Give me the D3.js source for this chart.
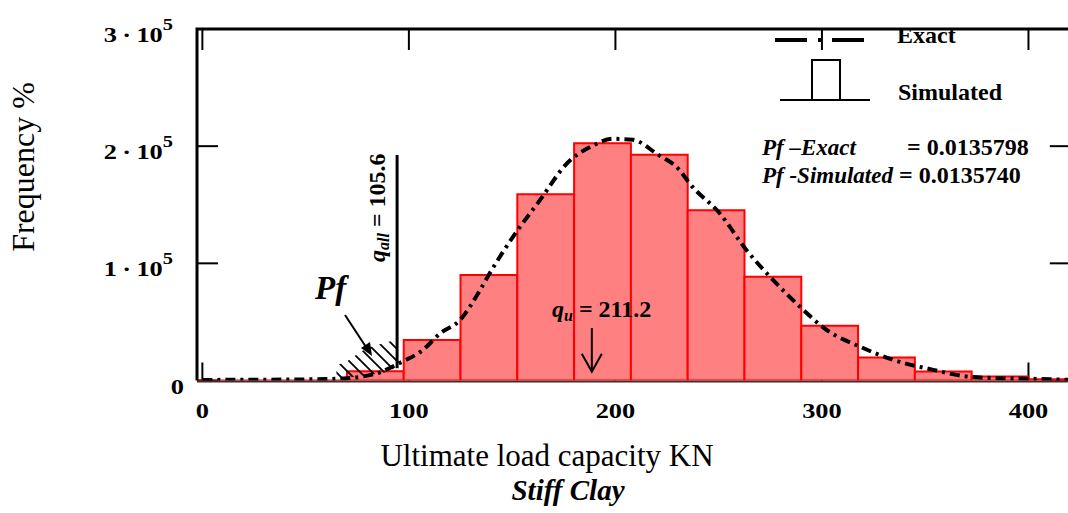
<!DOCTYPE html>
<html>
<head>
<meta charset="utf-8">
<script src="https://cdn.jsdelivr.net/npm/d3@7"></script>
<style>
  body { margin: 0; background: #fff; }
  svg { display: block; }
  text { font-family: "Liberation Serif", "Times New Roman", serif; fill: #000; }
</style>
</head>
<body>
<svg id="chart" width="1068" height="513"></svg>
<script>
// Histogram bins of the simulated ultimate load capacity (KN)
const binEdges = [-12.5, 15, 42.5, 70, 97.5, 125, 152.5, 180, 207.5, 235, 262.5, 290, 317.5, 345, 372.5, 400, 427.5];
const simulatedFreq = [0, 0, 0, 7800, 34600, 90000, 159000, 202500, 192700, 145300, 88500, 46800, 19600, 7700, 3400, 1000];

// Exact distribution curve
const exactLoad = [0, 20, 40, 60, 70, 78, 86, 95.6, 106.8, 115, 124.7, 134.4, 139.2, 150.4, 163.4, 176.4, 189.2, 198.8, 208.5, 220, 231.2, 236, 250.6, 263.5, 276.4, 289.3, 302.3, 318.4, 334.5, 353.9, 370, 385, 400, 420];
const exactFreq = [500, 600, 800, 1200, 2000, 3500, 7000, 15000, 26100, 40000, 51500, 77000, 91700, 122600, 153800, 185000, 200600, 206300, 205400, 193500, 179300, 168000, 142500, 111200, 85700, 63000, 43100, 28900, 17600, 9100, 3400, 2000, 1500, 500];

// Axis ticks
const xTicks = [0, 100, 200, 300, 400];
const yTicks = [0, 100000, 200000, 300000];

// Reported design values; the plotted axis runs 1.12 below the reported capacity
const qU = 211.2;
const qAll = 105.6;
const capacityFactor = 1.12;

const pfExact = "0.0135798";
const pfSimulated = "0.0135740";

// Failure-probability tail region (load, frequency) for hatching
const tailTop = [[64.9, 13000], [69.8, 16000], [75.4, 23000], [80.1, 28000], [86, 31000], [94, 35000]];
const tailBottom = [[94, 11000], [89, 7000], [83.5, 5500], [75, 3500], [68, 1500], [64.9, 2500]];

const svg = d3.select("#chart");

const x = d3.scaleLinear().domain([-2.6, 420.5]).range([197, 1070.8]);
const y = d3.scaleLinear().domain([0, 300000]).range([380.5, 29]);

const [x0, x1] = x.range();
const [yb, yt] = y.range();

const defs = svg.append("defs");
defs.append("clipPath").attr("id", "plotClip")
  .append("rect").attr("x", x0).attr("y", yt).attr("width", x1 - x0).attr("height", yb - yt);

// Hatch pattern
const pat = defs.append("pattern")
  .attr("id", "hatch").attr("patternUnits", "userSpaceOnUse")
  .attr("width", 12).attr("height", 12);
pat.append("path").attr("d", "M0,0 L12,12 M-3,9 L3,15 M9,-3 L15,3")
  .attr("stroke", "#000").attr("stroke-width", 1.8);

// Ticks (inside the frame)
const tickG = svg.append("g");
xTicks.forEach(v => {
  tickG.append("line").attr("x1", x(v)).attr("x2", x(v)).attr("y1", yb).attr("y2", yb - 18)
    .attr("stroke", "#000").attr("stroke-width", 2);
  tickG.append("line").attr("x1", x(v)).attr("x2", x(v)).attr("y1", yt).attr("y2", yt + 21)
    .attr("stroke", "#000").attr("stroke-width", 2);
});
yTicks.forEach(v => {
  tickG.append("line").attr("x1", x0).attr("x2", x0 + 21).attr("y1", y(v)).attr("y2", y(v))
    .attr("stroke", "#000").attr("stroke-width", 2);
  tickG.append("line").attr("x1", x1).attr("x2", x1 - 21).attr("y1", y(v)).attr("y2", y(v))
    .attr("stroke", "#000").attr("stroke-width", 2);
});

// Baseline
svg.append("line").attr("x1", x0).attr("x2", x1).attr("y1", yb + 1).attr("y2", yb + 1)
  .attr("stroke", "#333").attr("stroke-width", 2);

const plot = svg.append("g").attr("clip-path", "url(#plotClip)");

// Simulated histogram
const bins = simulatedFreq.map((f, i) => ({ a: binEdges[i], b: binEdges[i + 1], f }));
plot.selectAll("path.bar").data(bins).join("path")
  .attr("class", "bar")
  .attr("d", d => `M${x(d.a)},${y(0)}V${y(d.f)}H${x(d.b)}V${y(0)}Z`)
  .attr("fill", "#ff8080").attr("stroke", "#ff0000").attr("stroke-width", 2);

// Hatched tail
const tailPoly = tailTop.concat(tailBottom);
plot.append("path")
  .attr("d", "M" + tailPoly.map(p => `${x(p[0])},${y(p[1])}`).join("L") + "Z")
  .attr("fill", "url(#hatch)");

// Exact curve
const line = d3.line().x((d, i) => x(exactLoad[i])).y(d => y(d)).curve(d3.curveMonotoneX);
plot.append("path").datum(exactFreq).attr("d", line)
  .attr("fill", "none").attr("stroke", "#000").attr("stroke-width", 4)
  .attr("stroke-dasharray", "10,5,3,5");

// Frame: left and top edges
svg.append("path").attr("d", `M${x0},${yb}V${yt}H${x1}V${yb}`)
  .attr("fill", "none").attr("stroke", "#000").attr("stroke-width", 3);

// q_all vertical line
const qAllX = x(qAll / capacityFactor);
svg.append("line").attr("x1", qAllX).attr("x2", qAllX).attr("y1", y(192500)).attr("y2", y(10500))
  .attr("stroke", "#000").attr("stroke-width", 3);

// q_u arrow
const qUX = x(qU / capacityFactor);
const tipY = y(7500);
svg.append("line").attr("x1", qUX).attr("x2", qUX).attr("y1", y(44800)).attr("y2", tipY)
  .attr("stroke", "#000").attr("stroke-width", 2);
svg.append("path").attr("d", `M${qUX - 10},${tipY - 18}L${qUX},${tipY}L${qUX + 10},${tipY - 18}`)
  .attr("fill", "none").attr("stroke", "#000").attr("stroke-width", 2);

// Tick labels (wide bold numerals)
const tickFont = 22;
const stretch = 1.2;
xTicks.forEach(v => {
  svg.append("text").attr("transform", `translate(${x(v)},418) scale(${stretch},1)`)
    .attr("text-anchor", "middle")
    .attr("font-size", tickFont).attr("font-weight", "bold").attr("fill", "#111")
    .text(d3.format("d")(v));
});
yTicks.forEach(v => {
  const t = svg.append("text").attr("text-anchor", "end")
    .attr("font-size", tickFont).attr("font-weight", "bold").attr("fill", "#111");
  if (v === 0) {
    t.attr("transform", `translate(184,${y(v) + 13}) scale(${stretch},1)`).text("0");
  } else {
    const exp = Math.floor(Math.log10(v));
    const mant = v / Math.pow(10, exp);
    t.attr("transform", `translate(173,${y(v) + 13}) scale(${stretch},1)`);
    t.append("tspan").text(mant + "\u2009\u00b7\u200910");
    t.append("tspan").attr("dy", -12).attr("font-size", 17).text(exp);
  }
});

// Axis titles
svg.append("text").attr("transform", "translate(34,167) rotate(-90)").attr("text-anchor", "middle")
  .attr("font-size", 32).text("Frequency %");
svg.append("text").attr("x", 547).attr("y", 466).attr("text-anchor", "middle")
  .attr("font-size", 31).text("Ultimate load capacity KN");
svg.append("text").attr("x", 568).attr("y", 500).attr("text-anchor", "middle")
  .attr("font-size", 29).attr("font-weight", "bold").attr("font-style", "italic").text("Stiff Clay");

// Legend
svg.append("line").attr("x1", 775).attr("x2", 867).attr("y1", 40).attr("y2", 40)
  .attr("stroke", "#000").attr("stroke-width", 4).attr("stroke-dasharray", "32,11,3,11");
svg.append("text").attr("x", 897).attr("y", 43).attr("font-size", 24).attr("font-weight", "bold").text("Exact");
svg.append("path").attr("d", "M780,100H870M812,100V60H840V100")
  .attr("fill", "none").attr("stroke", "#000").attr("stroke-width", 2);
svg.append("text").attr("x", 898).attr("y", 100).attr("font-size", 24).attr("font-weight", "bold").text("Simulated");

// Failure probability results
const pfText = (label, value, yPos, eqX) => {
  svg.append("text").attr("x", 762).attr("y", yPos).attr("font-size", 23)
    .attr("font-weight", "bold").attr("font-style", "italic").text(label);
  svg.append("text").attr("x", eqX).attr("y", yPos).attr("font-size", 24)
    .attr("font-weight", "bold").text("= " + value);
};
pfText("Pf \u2013Exact", pfExact, 155, 907);
pfText("Pf -Simulated", pfSimulated, 183, 899);

// Pf label with arrow
svg.append("text").attr("x", 315).attr("y", 299).attr("font-size", 33)
  .attr("font-weight", "bold").attr("font-style", "italic").text("Pf");
svg.append("line").attr("x1", 345).attr("y1", 315).attr("x2", 366).attr("y2", 347)
  .attr("stroke", "#000").attr("stroke-width", 2);
svg.append("path").attr("d", "M372,356L361,348L370,342Z").attr("fill", "#000");

// q_u label
const quLabel = svg.append("text").attr("x", 552).attr("y", 317).attr("font-size", 24).attr("font-weight", "bold");
quLabel.append("tspan").attr("font-style", "italic").text("q");
quLabel.append("tspan").attr("font-style", "italic").attr("font-size", 16).attr("dy", 4).text("u");
quLabel.append("tspan").attr("dy", -4).text(" = " + qU);

// q_all label (vertical)
const qaLabel = svg.append("text").attr("transform", `translate(${qAllX - 12},262) rotate(-90)`)
  .attr("font-size", 24).attr("font-weight", "bold");
qaLabel.append("tspan").attr("font-style", "italic").text("q");
qaLabel.append("tspan").attr("font-style", "italic").attr("font-size", 16).attr("dy", 4).text("all");
qaLabel.append("tspan").attr("dy", -4).text(" = " + qAll);
</script>
</body>
</html>
